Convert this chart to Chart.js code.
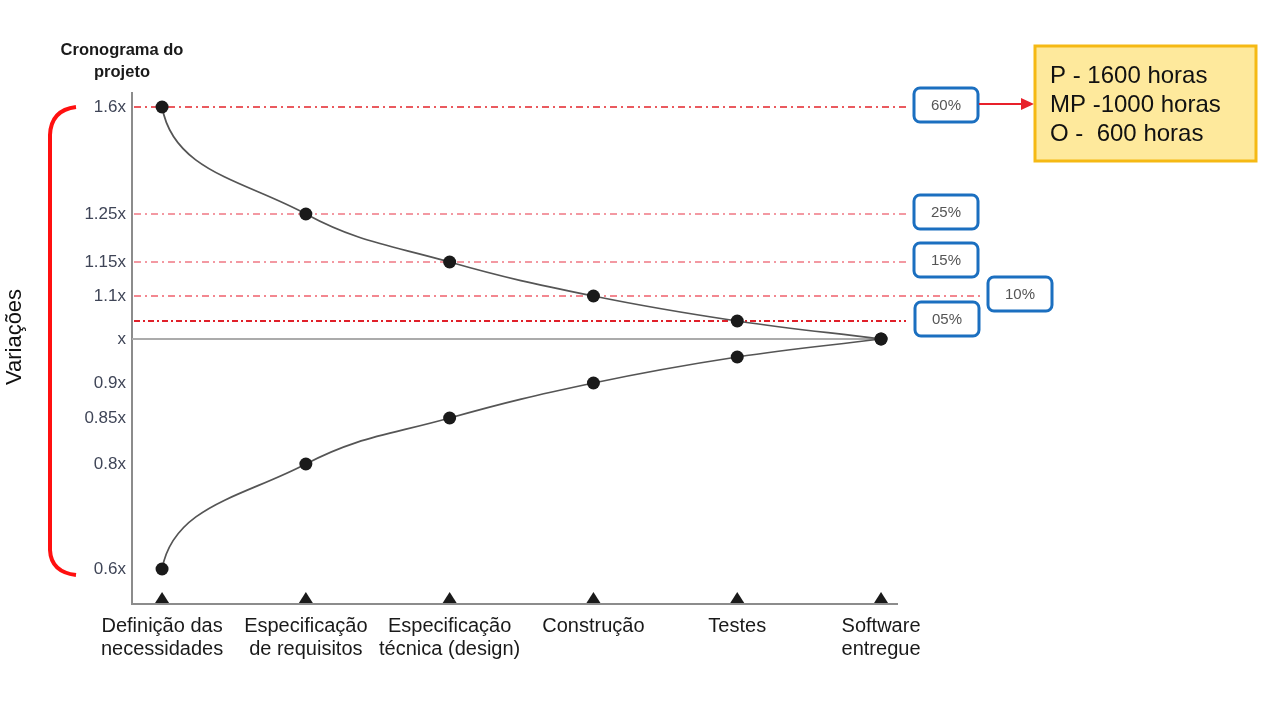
<!DOCTYPE html>
<html>
<head>
<meta charset="utf-8">
<script src="https://cdn.jsdelivr.net/npm/chart.js@4.4.1/dist/chart.umd.min.js"></script>
<style>
    html, body { margin: 0; padding: 0; background: #ffffff; }
    canvas { display: block; }
</style>
</head>
<body>
<canvas id="chartCone" width="1280" height="720"></canvas>
<script>
const stages = [
    ['Definição das', 'necessidades'],
    ['Especificação', 'de requisitos'],
    ['Especificação', 'técnica (design)'],
    ['Construção'],
    ['Testes'],
    ['Software', 'entregue']
];
const upperValues = [1.6, 1.25, 1.15, 1.1, 1.05, 1.0];
const lowerValues = [0.6, 0.8, 0.85, 0.9, 0.95, 1.0];
const yTickValues = [0.6, 0.8, 0.85, 0.9, 1.0, 1.1, 1.15, 1.25, 1.6];
const yTickLabels = ['0.6x', '0.8x', '0.85x', '0.9x', 'x', '1.1x', '1.15x', '1.25x', '1.6x'];
const guideValues = [1.6, 1.25, 1.15, 1.1, 1.05];
const guideLabels = ['60%', '25%', '15%', '10%', '05%'];
const noteLines = ['P - 1600 horas', 'MP -1000 horas', 'O -  600 horas'];

const FONT = "'Liberation Sans', Arial, sans-serif";

// the drawing's vertical axis is not uniform: value -> share of axis height
const axisStops = [
    [0.5, 0], [0.6, 0.0685], [0.8, 0.274], [0.85, 0.364], [0.9, 0.4325],
    [0.95, 0.4834], [1.0, 0.5186], [1.05, 0.5538], [1.1, 0.6027],
    [1.15, 0.6693], [1.25, 0.7632], [1.6, 0.9726], [1.65, 1]
];

function lerpStops(v, stops, from, to) {
    for (let i = 1; i < stops.length; i++) {
        const a = stops[i - 1], b = stops[i];
        if (v <= b[from] || i === stops.length - 1) {
            const t = (v - a[from]) / (b[from] - a[from]);
            return a[to] + t * (b[to] - a[to]);
        }
    }
    return v;
}

class WarpScale extends Chart.LinearScale {
    getPixelForValue(value) {
        return this.getPixelForDecimal(lerpStops(value, this.options.stops, 0, 1));
    }
    getValueForPixel(pixel) {
        return lerpStops(this.getDecimalForPixel(pixel), this.options.stops, 1, 0);
    }
}
WarpScale.id = 'warp';
WarpScale.defaults = {};
Chart.register(WarpScale);

const guideStyle = [
    { color: '#e3242b', width: 1.6, dash: [7, 4, 2, 4], end: 906 },
    { color: '#f07884', width: 1.3, dash: [7, 4, 2, 4], end: 906 },
    { color: '#f07884', width: 1.3, dash: [7, 4, 2, 4], end: 906 },
    { color: '#f0606c', width: 1.3, dash: [7, 4, 2, 4], end: 982 },
    { color: '#e0202a', width: 2.2, dash: [6, 3, 2, 3], end: 906 }
];
const boxLeft = [914, 914, 914, 988, 915];

function roundRect(ctx, x, y, w, h, r) {
    ctx.beginPath();
    ctx.moveTo(x + r, y);
    ctx.arcTo(x + w, y, x + w, y + h, r);
    ctx.arcTo(x + w, y + h, x, y + h, r);
    ctx.arcTo(x, y + h, x, y, r);
    ctx.arcTo(x, y, x + w, y, r);
    ctx.closePath();
}

const conePlugin = {
    id: 'cone',
    beforeDatasetsDraw(chart) {
        const { ctx, chartArea, scales: { x, y } } = chart;

        // the drawn curves leave the first stage almost vertically
        chart.data.datasets.forEach((ds, i) => {
            const pts = chart.getDatasetMeta(i).data;
            const p0 = pts[0], p1 = pts[1];
            p0.cp2x = p0.x + (p1.x - p0.x) * 0.08;
            p0.cp2y = p0.y + (p1.y - p0.y) * 0.6;
        });

        ctx.save();
        // baseline "x"
        const y1 = y.getPixelForValue(1.0);
        ctx.strokeStyle = '#ababab';
        ctx.lineWidth = 2;
        ctx.beginPath();
        ctx.moveTo(chartArea.left, y1);
        ctx.lineTo(x.getPixelForValue(stages.length - 1), y1);
        ctx.stroke();
        guideValues.forEach((v, i) => {
            const s = guideStyle[i];
            const py = y.getPixelForValue(v);
            ctx.strokeStyle = s.color;
            ctx.lineWidth = s.width;
            ctx.setLineDash(s.dash);
            ctx.beginPath();
            ctx.moveTo(chartArea.left + 2, py);
            ctx.lineTo(s.end, py);
            ctx.stroke();
        });
        ctx.restore();
    },
    afterDraw(chart) {
        const { ctx, chartArea, scales: { x, y } } = chart;
        ctx.save();

        // triangles on the time axis
        ctx.fillStyle = '#1a1a1a';
        stages.forEach((s, i) => {
            const px = x.getPixelForValue(i);
            const base = chartArea.bottom - 1;
            ctx.beginPath();
            ctx.moveTo(px - 7, base);
            ctx.lineTo(px + 7, base);
            ctx.lineTo(px, base - 11);
            ctx.closePath();
            ctx.fill();
        });

        // percentage boxes
        ctx.font = '15px ' + FONT;
        ctx.textAlign = 'center';
        ctx.textBaseline = 'middle';
        guideValues.forEach((v, i) => {
            const cy = y.getPixelForValue(v) - 2;
            const bx = boxLeft[i];
            roundRect(ctx, bx, cy - 17, 64, 34, 6);
            ctx.fillStyle = '#ffffff';
            ctx.fill();
            ctx.strokeStyle = '#1b6fc0';
            ctx.lineWidth = 3;
            ctx.stroke();
            ctx.fillStyle = '#555555';
            ctx.fillText(guideLabels[i], bx + 32, cy + 1);
        });

        // arrow to the estimate note
        const ay = y.getPixelForValue(guideValues[0]) - 3;
        ctx.strokeStyle = '#e8202a';
        ctx.fillStyle = '#e8202a';
        ctx.lineWidth = 2;
        ctx.beginPath();
        ctx.moveTo(979, ay);
        ctx.lineTo(1022, ay);
        ctx.stroke();
        ctx.beginPath();
        ctx.moveTo(1034, ay);
        ctx.lineTo(1021, ay - 6);
        ctx.lineTo(1021, ay + 6);
        ctx.closePath();
        ctx.fill();

        // estimate note
        ctx.fillStyle = '#fee99c';
        ctx.fillRect(1035, 46, 221, 115);
        ctx.strokeStyle = '#f5b914';
        ctx.lineWidth = 3;
        ctx.strokeRect(1035, 46, 221, 115);
        ctx.fillStyle = '#111111';
        ctx.font = '24px ' + FONT;
        ctx.textAlign = 'left';
        noteLines.forEach((t, i) => ctx.fillText(t, 1050, 76 + i * 29));

        // bracket
        ctx.strokeStyle = '#ff1010';
        ctx.lineWidth = 4;
        ctx.beginPath();
        ctx.moveTo(76, 107);
        ctx.quadraticCurveTo(51, 110, 50, 135);
        ctx.lineTo(50, 550);
        ctx.quadraticCurveTo(51, 572, 76, 575);
        ctx.stroke();

        // vertical title
        ctx.fillStyle = '#111111';
        ctx.font = '22px ' + FONT;
        ctx.textAlign = 'center';
        ctx.translate(15, 337);
        ctx.rotate(-Math.PI / 2);
        ctx.fillText('Variações', 0, 0);
        ctx.setTransform(1, 0, 0, 1, 0, 0);

        // axis heading
        ctx.font = 'bold 16.5px ' + FONT;
        ctx.fillStyle = '#1a1a1a';
        ctx.fillText('Cronograma do', 122, 50);
        ctx.fillText('projeto', 122, 72);

        ctx.restore();
    }
};

const pointStyle = {
    borderColor: '#555555',
    borderWidth: 1.7,
    pointRadius: 6.5,
    pointHoverRadius: 6.5,
    pointBackgroundColor: '#1a1a1a',
    pointBorderColor: '#1a1a1a',
    pointBorderWidth: 0,
    tension: 0.4,
    fill: false,
    clip: false
};

new Chart(document.getElementById('chartCone'), {
    type: 'line',
    data: {
        datasets: [
            { label: 'Superior', data: upperValues.map((v, i) => ({ x: i, y: v })), ...pointStyle },
            { label: 'Inferior', data: lowerValues.map((v, i) => ({ x: i, y: v })), ...pointStyle }
        ]
    },
    options: {
        responsive: false,
        animation: false,
        layout: {
            padding: { left: 0, top: 93, right: 383, bottom: 0 }
        },
        plugins: {
            legend: { display: false },
            tooltip: { enabled: false }
        },
        scales: {
            x: {
                type: 'linear',
                min: -0.209,
                max: 5.111,
                afterBuildTicks: scale => {
                    scale.ticks = stages.map((s, i) => ({ value: i }));
                },
                afterFit: scale => {
                    scale.height = 116;
                },
                grid: { display: false, drawTicks: false },
                border: { display: true, color: '#8c8c8c', width: 2 },
                ticks: {
                    autoSkip: false,
                    maxRotation: 0,
                    padding: 11,
                    color: '#1a1a1a',
                    font: { family: FONT, size: 20, lineHeight: 1.15 },
                    callback: (value, index) => stages[index]
                }
            },
            y: {
                type: 'warp',
                min: 0.5,
                max: 1.65,
                stops: axisStops,
                afterBuildTicks: scale => {
                    scale.ticks = yTickValues.map(v => ({ value: v }));
                },
                afterFit: scale => {
                    scale.width = 132;
                },
                grid: { display: false, drawTicks: false },
                border: { display: true, color: '#8c8c8c', width: 2 },
                ticks: {
                    padding: 6,
                    color: '#3f4557',
                    font: { family: FONT, size: 17 },
                    callback: (value, index) => yTickLabels[index]
                }
            }
        }
    },
    plugins: [conePlugin]
});
</script>
</body>
</html>
